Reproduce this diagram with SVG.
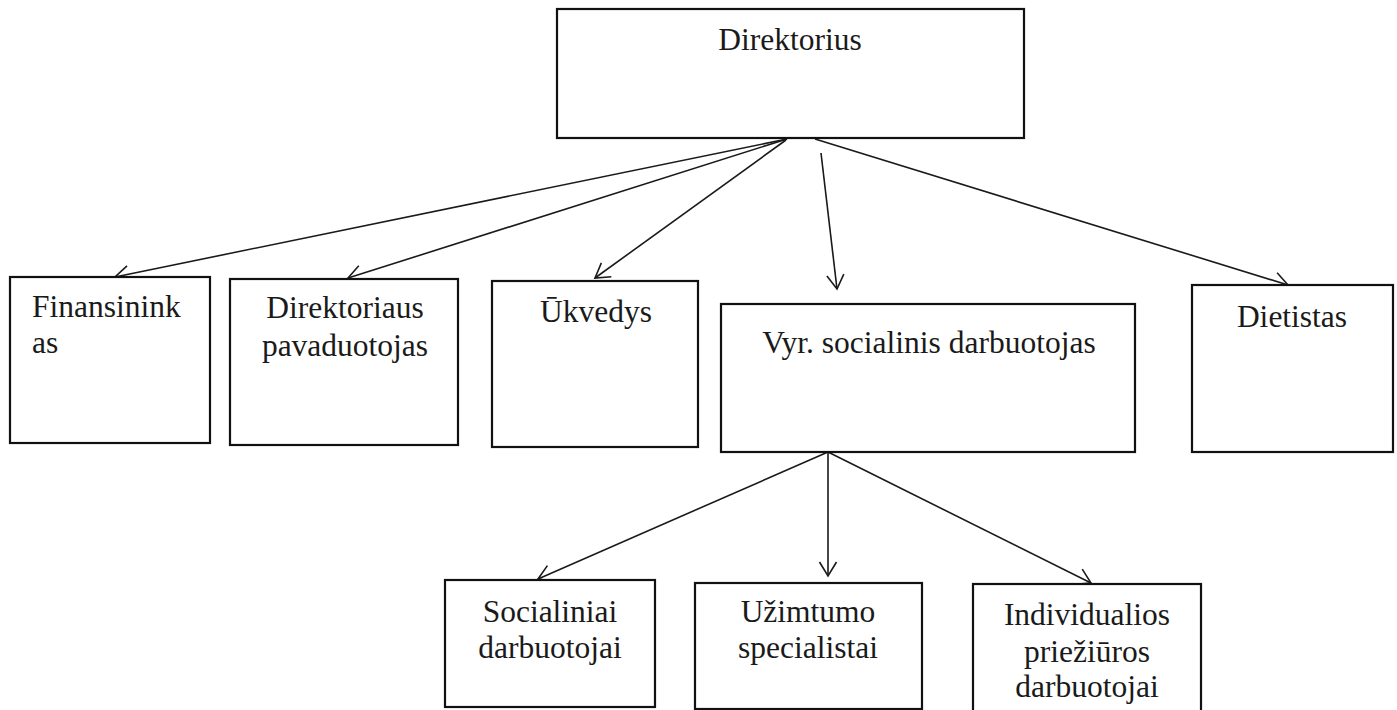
<svg xmlns="http://www.w3.org/2000/svg" width="1397" height="710" viewBox="0 0 1397 710">
<style>
  .box { fill: #fff; stroke: #111; stroke-width: 2.2; }
  .lbl { font-family: "Liberation Serif", "Times New Roman", serif; font-size: 31.5px; fill: #1a1a1a; }
  .c { text-anchor: middle; }
  .conn { stroke: #1a1a1a; stroke-width: 1.6; fill: none; marker-end: url(#arr); }
</style>
<defs>
  <marker id="arr" markerUnits="userSpaceOnUse" viewBox="-18 -11 20 22" markerWidth="20" markerHeight="22" refX="0" refY="0" orient="auto">
    <path d="M-14,-8.5 L0,0 L-14,8.5" fill="none" stroke="#1a1a1a" stroke-width="1.6"/>
  </marker>
</defs>
<rect width="1397" height="710" fill="#fff"/>

<g id="connectors">
  <line class="conn" x1="787" y1="139" x2="115" y2="277"/>
  <line class="conn" x1="787" y1="139" x2="348" y2="278"/>
  <line class="conn" x1="786" y1="140" x2="595" y2="278"/>
  <line class="conn" x1="821" y1="153" x2="837" y2="289"/>
  <line class="conn" x1="815" y1="139" x2="1288" y2="285"/>
  <line class="conn" x1="828" y1="452" x2="538" y2="579"/>
  <line class="conn" x1="828" y1="452" x2="828" y2="576"/>
  <line class="conn" x1="828" y1="452" x2="1091" y2="583"/>
</g>

<g id="direktorius">
  <rect class="box" x="557" y="9" width="467" height="129"/>
  <text class="lbl c" x="790" y="50">Direktorius</text>
</g>
<g id="finansininkas">
  <rect class="box" x="10" y="277" width="200" height="166"/>
  <text class="lbl" x="32" y="317">Finansinink</text>
  <text class="lbl" x="32" y="353">as</text>
</g>
<g id="pavaduotojas">
  <rect class="box" x="230" y="279" width="228" height="166"/>
  <text class="lbl c" x="345" y="318">Direktoriaus</text>
  <text class="lbl c" x="345" y="356">pavaduotojas</text>
</g>
<g id="ukvedys">
  <rect class="box" x="492" y="281" width="206" height="166"/>
  <text class="lbl c" x="596" y="322">Ūkvedys</text>
</g>
<g id="vyr-socialinis">
  <rect class="box" x="721" y="304" width="414" height="148"/>
  <text class="lbl c" x="929" y="353">Vyr. socialinis darbuotojas</text>
</g>
<g id="dietistas">
  <rect class="box" x="1192" y="285" width="201" height="167"/>
  <text class="lbl c" x="1292" y="327">Dietistas</text>
</g>
<g id="socialiniai">
  <rect class="box" x="445" y="580" width="210" height="127"/>
  <text class="lbl c" x="550" y="622">Socialiniai</text>
  <text class="lbl c" x="550" y="658">darbuotojai</text>
</g>
<g id="uzimtumo">
  <rect class="box" x="695" y="583" width="227" height="126"/>
  <text class="lbl c" x="808" y="622">Užimtumo</text>
  <text class="lbl c" x="808" y="658">specialistai</text>
</g>
<g id="individualios">
  <rect class="box" x="973" y="584" width="228" height="135"/>
  <text class="lbl c" x="1087" y="625">Individualios</text>
  <text class="lbl c" x="1087" y="662">priežiūros</text>
  <text class="lbl c" x="1087" y="697">darbuotojai</text>
</g>
</svg>
